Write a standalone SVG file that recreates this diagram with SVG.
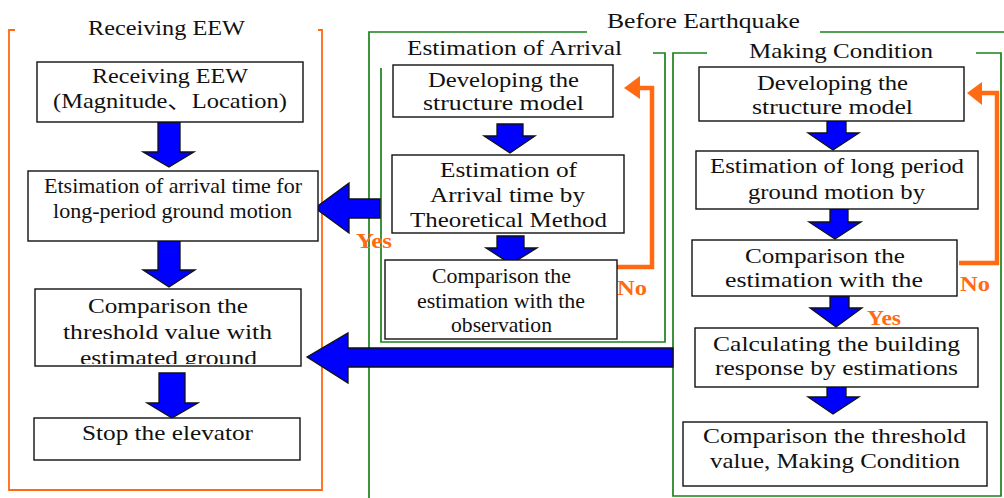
<svg xmlns="http://www.w3.org/2000/svg" width="1004" height="498" viewBox="0 0 1004 498" font-family="'Liberation Serif', 'DejaVu Serif', 'Noto Sans CJK JP', serif">
<style>
text{font-size:21px;fill:#111}
.box{fill:#fff;stroke:#111;stroke-width:1.4}
.gf{fill:none;stroke:#1a821a;stroke-width:1.7}
.of{fill:none;stroke:#ff6a13;stroke-width:1.8}
.ba{fill:#0000ff;stroke:#111;stroke-width:1.3;stroke-linejoin:miter}
.fb{fill:none;stroke:#ff6a13;stroke-width:4.5}
.fh{fill:#ff6a13}
.yn{font-weight:bold;fill:#ff6a13;font-size:22px}
</style>
<defs>
<clipPath id="clipB3"><rect x="35" y="289" width="266" height="75"/></clipPath>
</defs>
<rect width="1004" height="498" fill="#fff"/>

<g id="frames">
<g id="frame-receiving">
<path class="of" d="M15,30 H9 V490 H322 V30 H318"/>
<text x="88" y="35" textLength="157" lengthAdjust="spacingAndGlyphs">Receiving EEW</text>
</g>
<g id="frame-before">
<path class="gf" d="M587,32 H369 V498 M820,32 H1004"/>
<text x="607" y="28" textLength="193" lengthAdjust="spacingAndGlyphs">Before Earthquake</text>
</g>
<g id="frame-arrival">
<path class="gf" d="M381,68 V342 H665 V53 H653"/>
<text x="407" y="55" textLength="215" lengthAdjust="spacingAndGlyphs">Estimation of Arrival</text>
</g>
<g id="frame-making">
<path class="gf" d="M707,53 H673 V496 H1001 V53 H976"/>
<text x="749" y="58" textLength="184" lengthAdjust="spacingAndGlyphs">Making Condition</text>
</g>
</g>

<g id="connectors">
<polygon class="ba" points="158,122 180,122 180,152 194,152 169,167 143,152 158,152"/>
<polygon class="ba" points="158,241 180,241 180,270 195,270 169,287 143,270 158,270"/>
<polygon class="ba" points="159,373 185,373 185,403 198,403 172,418 147,403 159,403"/>
<polygon class="ba" points="497,124 523,124 523,136 535,136 510,153 484,136 497,136"/>
<polygon class="ba" points="497,236 524,236 524,248 537,248 511,264 486,248 497,248"/>
<polygon class="ba" points="827,121 846,121 846,133 859,133 833,150 808,133 827,133"/>
<polygon class="ba" points="830,209 848,209 848,222 861,222 835,239 809,222 830,222"/>
<polygon class="ba" points="830,296 849,296 849,308 862,308 836,327 810,308 830,308"/>
<polygon class="ba" points="827,387 846,387 846,397 859,397 833,414 808,397 827,397"/>
<polygon class="ba" points="380,199 380,218 349,218 349,233 315,208 349,183 349,199"/>
<polygon class="ba" points="673,348 673,367 348,367 348,383 307,357 348,333 348,348"/>
<polyline class="fb" points="617,267 652,267 652,88 638,88"/>
<polygon class="fh" points="640,76 624,88 640,99"/>
<polyline class="fb" points="959,263 997,263 997,93 980,93"/>
<polygon class="fh" points="982,82 967,93 982,105"/>
<text class="yn" x="356" y="248" textLength="36" lengthAdjust="spacingAndGlyphs">Yes</text>
<text class="yn" x="867" y="325" textLength="34" lengthAdjust="spacingAndGlyphs">Yes</text>
<text class="yn" x="617" y="295" textLength="30" lengthAdjust="spacingAndGlyphs">No</text>
<text class="yn" x="960" y="291" textLength="30" lengthAdjust="spacingAndGlyphs">No</text>
</g>

<g id="node-receiving">
<rect class="box" x="37" y="62" width="266" height="60"/>
<text x="92" y="83" textLength="156" lengthAdjust="spacingAndGlyphs">Receiving EEW</text>
<text x="53" y="108" textLength="234" lengthAdjust="spacingAndGlyphs">(Magnitude、Location)</text>
</g>
<g id="node-arrival-time">
<rect class="box" x="28" y="171" width="290" height="70"/>
<text x="44" y="193" textLength="258" lengthAdjust="spacingAndGlyphs">Etsimation of arrival time for</text>
<text x="53" y="218" textLength="239" lengthAdjust="spacingAndGlyphs">long-period ground motion</text>
</g>
<g id="node-comparison-threshold">
<rect class="box" x="35" y="289" width="266" height="77"/>
<text x="88" y="313" textLength="160" lengthAdjust="spacingAndGlyphs">Comparison the</text>
<text x="63" y="339" textLength="209" lengthAdjust="spacingAndGlyphs">threshold value with</text>
<text x="80" y="365" textLength="177" lengthAdjust="spacingAndGlyphs" clip-path="url(#clipB3)">estimated ground</text>
</g>
<g id="node-stop">
<rect class="box" x="34" y="418" width="266" height="42"/>
<text x="82" y="440" textLength="171" lengthAdjust="spacingAndGlyphs">Stop the elevator</text>
</g>

<g id="node-m-develop">
<rect class="box" x="393" y="65" width="220" height="52"/>
<text x="428" y="87" textLength="151" lengthAdjust="spacingAndGlyphs">Developing the</text>
<text x="423" y="110" textLength="161" lengthAdjust="spacingAndGlyphs">structure model</text>
</g>
<g id="node-m-estimation">
<rect class="box" x="392" y="155" width="232" height="78"/>
<text x="440" y="177" textLength="137" lengthAdjust="spacingAndGlyphs">Estimation of</text>
<text x="430" y="202" textLength="155" lengthAdjust="spacingAndGlyphs">Arrival time by</text>
<text x="410" y="227" textLength="197" lengthAdjust="spacingAndGlyphs">Theoretical Method</text>
</g>
<g id="node-m-comparison">
<rect class="box" x="385" y="260" width="232" height="79"/>
<text x="432" y="283" textLength="139" lengthAdjust="spacingAndGlyphs">Comparison the</text>
<text x="417" y="308" textLength="168" lengthAdjust="spacingAndGlyphs">estimation with the</text>
<text x="451" y="332" textLength="101" lengthAdjust="spacingAndGlyphs">observation</text>
</g>

<g id="node-r-develop">
<rect class="box" x="699" y="67" width="265" height="54"/>
<text x="757" y="90" textLength="151" lengthAdjust="spacingAndGlyphs">Developing the</text>
<text x="752" y="114" textLength="161" lengthAdjust="spacingAndGlyphs">structure model</text>
</g>
<g id="node-r-estimation">
<rect class="box" x="696" y="151" width="282" height="58"/>
<text x="710" y="173" textLength="254" lengthAdjust="spacingAndGlyphs">Estimation of long period</text>
<text x="748" y="199" textLength="177" lengthAdjust="spacingAndGlyphs">ground motion by</text>
</g>
<g id="node-r-comparison">
<rect class="box" x="692" y="240" width="265" height="56"/>
<text x="745" y="263" textLength="160" lengthAdjust="spacingAndGlyphs">Comparison the</text>
<text x="725" y="287" textLength="198" lengthAdjust="spacingAndGlyphs">estimation with the</text>
</g>
<g id="node-r-calculating">
<rect class="box" x="695" y="328" width="283" height="59"/>
<text x="713" y="351" textLength="247" lengthAdjust="spacingAndGlyphs">Calculating the building</text>
<text x="715" y="375" textLength="243" lengthAdjust="spacingAndGlyphs">response by estimations</text>
</g>
<g id="node-r-threshold">
<rect class="box" x="683" y="422" width="304" height="64"/>
<text x="703" y="443" textLength="263" lengthAdjust="spacingAndGlyphs">Comparison the threshold</text>
<text x="710" y="468" textLength="250" lengthAdjust="spacingAndGlyphs">value, Making Condition</text>
</g>
</svg>
